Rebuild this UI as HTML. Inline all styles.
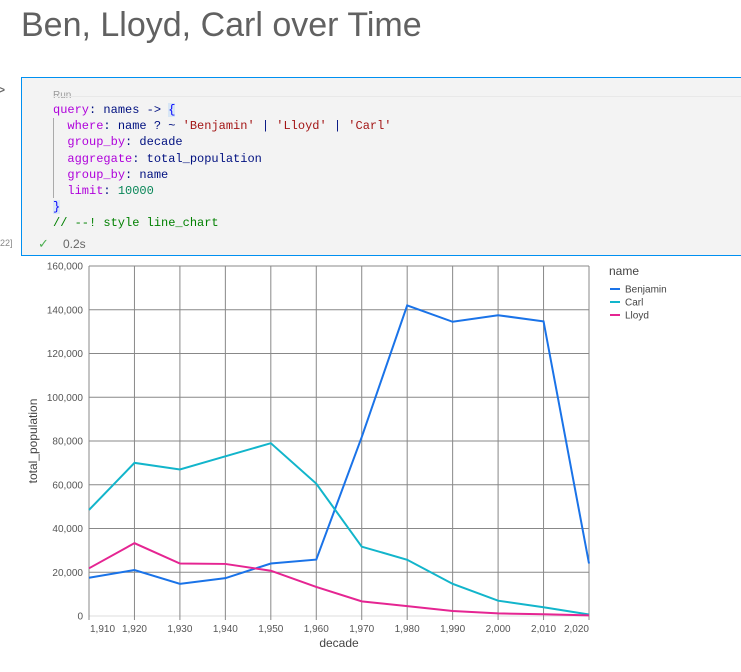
<!DOCTYPE html>
<html><head><meta charset="utf-8"><style>
body{margin:0;width:741px;height:672px;background:#fff;overflow:hidden;font-family:"Liberation Sans",sans-serif;position:relative}
.title{position:absolute;left:21px;top:6px;font-size:34px;color:#616161}
.cell{position:absolute;left:21px;top:77px;width:730px;height:177px;border:1px solid #0090f1;background:#f3f3f3}
.code{position:absolute;left:31px;top:24px;font-family:"Liberation Mono",monospace;font-size:12px;line-height:16.2px;white-space:pre;color:#001080}
.kw{color:#af00db}.s{color:#a31515}.n{color:#098658}.c{color:#008000}
</style></head><body>
<div class="title">Ben, Lloyd, Carl over Time</div>
<div style="position:absolute;left:-4px;top:82px;font-size:16px;color:#666">&gt;</div>
<div style="position:absolute;left:0;top:238px;font-size:9px;color:#888">22]</div>
<div class="cell">
<div style="position:absolute;left:31px;top:12px;font-size:10px;color:#999">Run</div>
<div style="position:absolute;left:31px;top:18px;width:700px;height:1px;background:#e8e8e8"></div>
<div style="position:absolute;left:31px;top:40px;width:1px;height:80px;background:#aaa"></div>
<div class="code"><span class="kw">query</span>: names -&gt; <span style="color:#0000ff;background:#d8e6f5">{</span>
  <span class="kw">where</span>: name ? ~ <span class="s">'Benjamin'</span> | <span class="s">'Lloyd'</span> | <span class="s">'Carl'</span>
  <span class="kw">group_by</span>: decade
  <span class="kw">aggregate</span>: total_population
  <span class="kw">group_by</span>: name
  <span class="kw">limit</span>: <span class="n">10000</span>
<span style="color:#0000ff;background:#d8e6f5">}</span>
<span class="c">// --! style line_chart</span></div>
<div style="position:absolute;left:16px;top:158px;font-size:13px;color:#4caf50">✓</div>
<div style="position:absolute;left:41px;top:159px;font-size:12px;color:#666">0.2s</div>
</div>
<svg id="chart" style="position:absolute;left:0;top:0" width="741" height="672"></svg>
<script>
const decades=[1910,1920,1930,1940,1950,1960,1970,1980,1990,2000,2010,2020];
const yTicks=[0,20000,40000,60000,80000,100000,120000,140000,160000];
const benjamin=[17500,21000,14700,17300,24000,25800,81800,142000,134500,137500,134700,24000];
const carl=[48500,70000,67000,73000,79000,60500,31700,25700,14700,7000,4000,700];
const lloyd=[21800,33300,24000,23800,20700,13300,6700,4500,2300,1200,800,300];
const seriesNames=["Benjamin","Carl","Lloyd"];
const colors=["#1a73e8","#12b5cb","#e52592"];
const L=89,R=589,T=266,B=616;
const x=d=>L+(d-1910)/(2020-1910)*(R-L);
const y=v=>B-v/160000*(B-T);
const svg=document.getElementById('chart');
const NS='http://www.w3.org/2000/svg';
function mk(t,a){const e=document.createElementNS(NS,t);for(const k in a)e.setAttribute(k,a[k]);svg.appendChild(e);return e;}
const fmt=v=>v.toLocaleString('en-US');
yTicks.forEach(v=>{
 const g=mk('line',{x1:L,x2:R,y1:y(v),y2:y(v),stroke:v===0?'#ddd':'#888','stroke-width':1});
 
 
 const t=mk('text',{x:L-6,y:y(v)+3.5,'text-anchor':'end','font-size':10,fill:'#555'});t.textContent=fmt(v);
 
 
});
decades.forEach((d,i)=>{
 const g=mk('line',{x1:x(d),x2:x(d),y1:T,y2:B+4,stroke:'#888','stroke-width':1});
 
 
 const anchor=i===0?'start':(i===decades.length-1?'end':'middle');
 const t=mk('text',{x:x(d)+(i===0?1:0),y:B+16,'text-anchor':anchor,'font-size':10,fill:'#555'});t.textContent=fmt(d);
 
 
});
[benjamin,carl,lloyd].forEach((s,i)=>{
 const p=mk('polyline',{points:s.map((v,j)=>x(decades[j])+','+y(v)).join(' '),fill:'none',stroke:colors[i],'stroke-width':2});
 
 
});
let t=mk('text',{x:(L+R)/2,y:647,'text-anchor':'middle','font-size':12,fill:'#444'});t.textContent='decade';


t=mk('text',{x:37,y:(T+B)/2,'text-anchor':'middle','font-size':12,fill:'#444',transform:'rotate(-90 37 '+(T+B)/2+')'});t.textContent='total_population';


t=mk('text',{x:609,y:275,'font-size':12,fill:'#444'});t.textContent='name';


seriesNames.forEach((n,i)=>{
 const yy=289+i*13;
 const l=mk('line',{x1:610,x2:620,y1:yy,y2:yy,stroke:colors[i],'stroke-width':2});
 
 
 const tt=mk('text',{x:625,y:yy+3.5,'font-size':10,fill:'#444'});tt.textContent=n;
 
 
});
</script>
</body></html>
